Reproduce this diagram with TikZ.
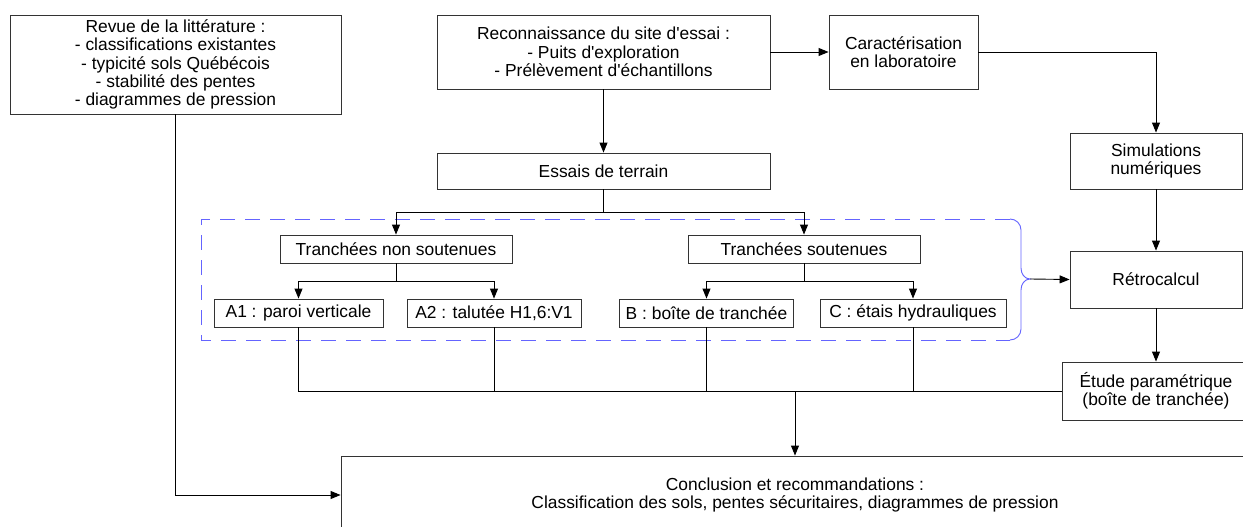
\documentclass[tikz,border=0pt]{standalone}
\usepackage{fontspec}
\setmainfont{Liberation Sans}
\usepackage{tikz}
\usetikzlibrary{arrows.meta}
\definecolor{groupblue}{RGB}{100,100,255}

\begin{document}
\begin{tikzpicture}[x=1pt, y=-1pt,
	box/.style={draw=black!80, line width=0.9pt, align=center, inner sep=0pt, font=\fontsize{17.4}{18.4}\selectfont},
	link/.style={black, line width=0.9pt},
	arr/.style={link, -{Triangle[length=10pt, width=8pt]}},
	grouplink/.style={draw=groupblue, line width=0.9pt}]
						\clip (0, 0) rectangle (1243, 527);

						\node[box, minimum width=331, minimum height=99] (revue) at (175.5, 64.5) {Revue de la litt\'erature :\\- classifications existantes\\- typicit\'e sols Qu\'eb\'ecois\\- stabilit\'e des pentes\\- diagrammes de pression};
						\node[box, minimum width=333, minimum height=74] (recon) at (603.5, 52) {Reconnaissance du site d\textquotesingle essai :\\- Puits d\textquotesingle exploration\\- Pr\'el\`evement d\textquotesingle \'echantillons};
						\node[box, minimum width=149, minimum height=74] (carac) at (903.5, 52) {Caract\'erisation\\en laboratoire};
						\node[box, minimum width=172, minimum height=56] (simul) at (1156, 161) {Simulations\\num\'eriques};
						\node[box, minimum width=333, minimum height=36] (essais) at (603.5, 171) {Essais de terrain};
						\node[box, minimum width=232, minimum height=28] (tns) at (396, 249) {Tranch\'ees non soutenues};
						\node[box, minimum width=232, minimum height=28] (ts) at (804, 249) {Tranch\'ees soutenues};
						\node[box, minimum width=169, minimum height=28] (a1) at (298.5, 313) {A1 : paroi verticale};
						\node[box, minimum width=174, minimum height=28] (a2) at (494, 313) {A2 : talut\'ee H1,6:V1};
						\node[box, minimum width=174, minimum height=28] (b) at (706.5, 313) {B : bo\^ite de tranch\'ee};
						\node[box, minimum width=186, minimum height=28] (c) at (913, 313) {C : \'etais hydrauliques};
						\node[box, minimum width=172, minimum height=57] (retro) at (1156, 279.5) {R\'etrocalcul};
						\node[box, minimum width=188, minimum height=58] (etude) at (1156, 391) {\'Etude param\'etrique\\(bo\^ite de tranch\'ee)};
						\node[box, minimum width=908, minimum height=78] (concl) at (795, 495) {Conclusion et recommandations :\\Classification des sols, pentes s\'ecuritaires, diagrammes de pression};

						\draw[grouplink, dash pattern=on 15pt off 10pt] (1010, 219) -- (201, 219) -- (201, 340) -- (1010, 340);
						\draw[grouplink] (1010, 219) to[out=0, in=90] (1021, 230) -- (1021, 268) to[out=-90, in=180] (1030, 279) to[out=180, in=90] (1021, 290) -- (1021, 329) to[out=-90, in=0] (1010, 340);
						\coordinate (brace) at (1030, 279);
						\coordinate (essfork) at (603.5, 212);
						\coordinate (join) at (795, 391);

						\draw[arr] (recon.east) -- (carac.west);
						\draw[arr] (carac.east) -| (simul.north);
						\draw[arr] (simul.south) -- (retro.north);
						\draw[arr] (retro.south) -- (etude.north);
						\draw[arr] (recon.south) -- (essais.north);
						\draw[link] (essais.south) -- (essfork);
						\draw[arr] (essfork) -| (tns.north);
						\draw[arr] (essfork) -| (ts.north);
						\draw[arr] (tns.south) -- ++(0, 18) -| (a1.north);
						\draw[arr] (tns.south) -- ++(0, 18) -| (a2.north);
						\draw[arr] (ts.south) -- ++(0, 18) -| (b.north);
						\draw[arr] (ts.south) -- ++(0, 18) -| (c.north);
						\draw[arr] (brace) -- (retro.west);
						\draw[link] (a1.south) |- (etude.west);
						\foreach \n in {a2, b, c} \draw[link] (\n.south) -- (\n.south |- etude.west);
						\draw[arr] (join) -- (concl.north);
						\draw[arr] (revue.south) |- (concl.west);
					\end{tikzpicture}
\end{document}
